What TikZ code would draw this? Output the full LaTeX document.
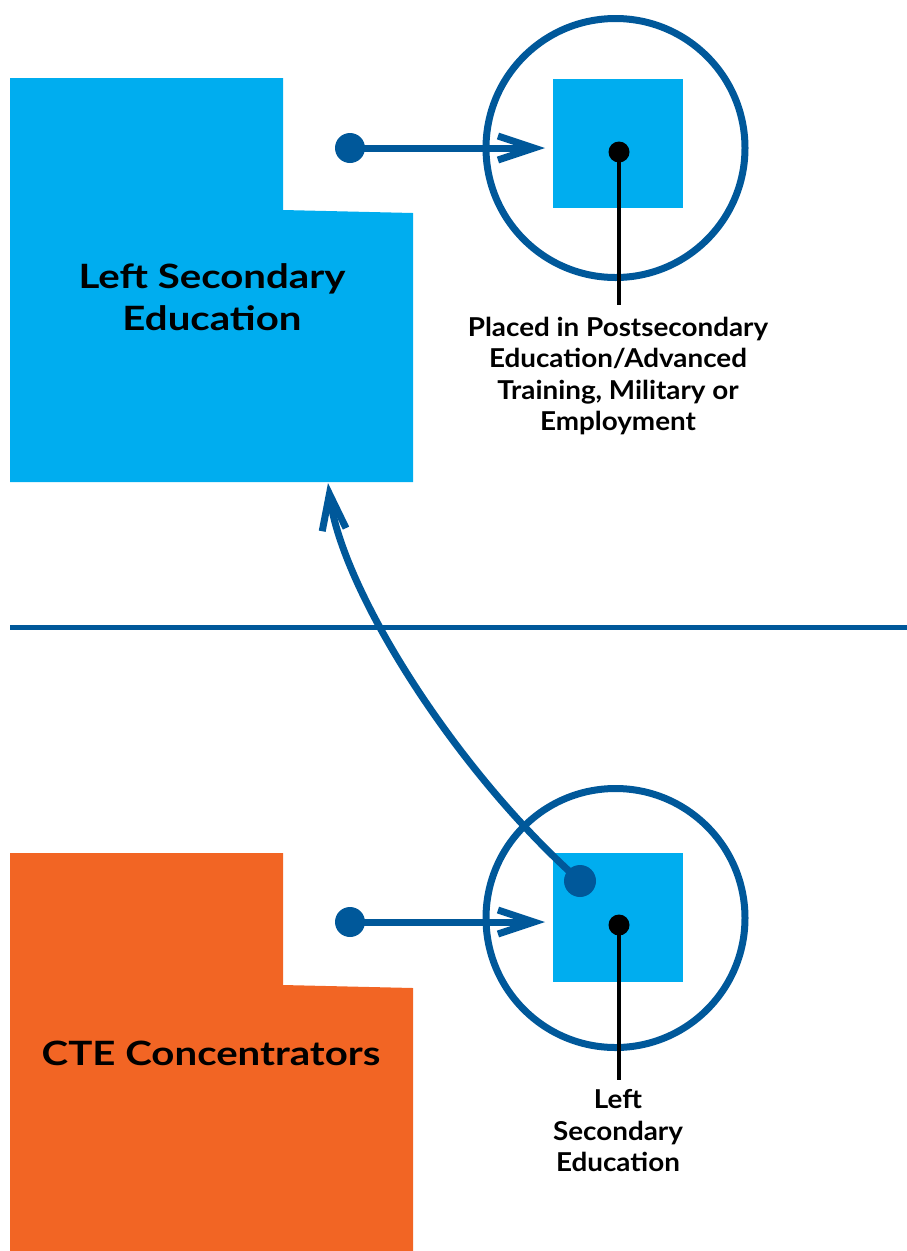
\documentclass[tikz,border=0pt]{standalone}
\usepackage{fontspec}
\setmainfont{Lato}
\newfontfamily\bigfont{Lato}[FakeStretch=1.2]
\newfontfamily\smallfont{Lato}[FakeStretch=1.07]
\usetikzlibrary{arrows.meta}
\definecolor{dkblue}{RGB}{0,88,154}
\definecolor{ltblue}{RGB}{0,173,239}
\definecolor{ctorange}{RGB}{242,101,36}
\tikzset{
  conn/.style={draw=dkblue, line width=7pt, -{Straight Barb[length=36pt,width=24pt,line width=7pt]}},
  ring/.style={draw=dkblue, line width=7pt},
  srcdot/.style={circle, fill=dkblue, inner sep=0pt, minimum size=30pt},
  blkdot/.style={circle, fill=black, inner sep=0pt, minimum size=21pt},
  lead/.style={draw=black, line width=4.5pt},
  bigtxt/.style={align=center, font=\bigfont\fontsize{33.5}{42}\selectfont\bfseries, text=black},
  smalltxt/.style={align=center, font=\smallfont\fontsize{26}{31.5}\selectfont\bfseries, text=black},
}
\begin{document}
\begin{tikzpicture}[x=1pt,y=-1pt]
\useasboundingbox (0,0) rectangle (907,1251);
% top blue block
\fill[ltblue] (10,78) -- (283,78) -- (283,210) -- (413,213) -- (413,482) -- (10,482) -- cycle;
\node[bigtxt] (lse) at (212,297) {Left Secondary\\Education};
% bottom orange block
\fill[ctorange] (10,853) -- (283,853) -- (283,985) -- (413,988) -- (413,1251) -- (10,1251) -- cycle;
\node[bigtxt] (cte) at (211,1053) {CTE Concentrators};
% divider
\coordinate (divl) at (10,627);
\coordinate (divr) at (907,627);
\draw[dkblue, line width=5pt] (divl) -- (divr);
% top circle group
\draw[ring] (615.5,148) circle (129.5);
\fill[ltblue] (553,79) rectangle (683,208);
\node[srcdot] (d1) at (350,148) {};
\coordinate (t1) at (545,148);
\draw[conn] (d1.center) -- (t1);
\node[blkdot] (b1) at (619,152) {};
\node[smalltxt] (lbl1) at (618,376) {Placed in Postsecondary\\Education/Advanced\\Training, Military or\\Employment};
\coordinate (e1) at (619,305);
\draw[lead] (b1.center) -- (e1);
% bottom circle group
\draw[ring] (615.5,918) circle (129.5);
\fill[ltblue] (553,853) rectangle (683,982);
\node[srcdot] (d2) at (350,922) {};
\coordinate (t2) at (545,922);
\draw[conn] (d2.center) -- (t2);
\node[blkdot] (b2) at (619,925) {};
\node[smalltxt] (lbl2) at (618,1131) {Left\\Secondary\\Education};
\coordinate (e2) at (619,1080);
\draw[lead] (b2.center) -- (e2);
% curved arrow
\node[srcdot, minimum size=32pt] (d3) at (580,881) {};
\coordinate (t3) at (328,483);
\draw[conn] (d3.center) .. controls (455,770) and (342,590) .. (t3);
\end{tikzpicture}
\end{document}
